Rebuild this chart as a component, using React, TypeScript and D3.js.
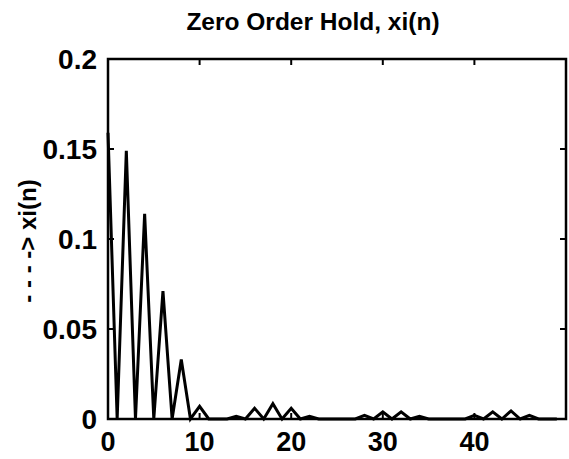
import React from "react";
import * as d3 from "d3";

const nValues: number[] = Array.from({ length: 50 }, (_, i) => i);
const xiValues: number[] = [
  0.159, 0, 0.149, 0, 0.114, 0, 0.071, 0, 0.033, 0,
  0.007, 0, 0, 0, 0.0015, 0, 0.006, 0, 0.0085, 0,
  0.006, 0, 0.0015, 0, 0, 0, 0, 0, 0.002, 0,
  0.004, 0, 0.004, 0, 0.0015, 0, 0, 0, 0, 0,
  0.002, 0, 0.004, 0, 0.0045, 0, 0.002, 0, 0, 0,
];
const xTicks: number[] = [0, 10, 20, 30, 40];
const yTicks: number[] = [0, 0.05, 0.1, 0.15, 0.2];
const yTickLabels: string[] = ["0", "0.05", "0.1", "0.15", "0.2"];
const titleText = "Zero Order Hold, xi(n)";
const yLabelText = "- - - -> xi(n)";

const W = 569;
const H = 459;
const L = 108;
const R = 566;
const T = 59;
const B = 419;

export default function App() {
  const x = d3.scaleLinear().domain([0, 50]).range([L, R]);
  const y = d3.scaleLinear().domain([0, 0.2]).range([B, T]);
  const line = d3
    .line<number>()
    .x((_, i) => x(nValues[i]))
    .y((d) => y(d));
  const font = "'Liberation Sans', Arial, Helvetica, sans-serif";
  const tick = 6;
  return (
    <svg
      width={W}
      height={H}
      style={{ position: "absolute", left: 0, top: 0, background: "#fff" }}
    >
      <rect x={0} y={0} width={W} height={H} fill="#fff" />
      <text
        x={313}
        y={30}
        textAnchor="middle"
        fontFamily={font}
        fontWeight="bold"
        fontSize={24.5}
        fill="#000"
      >
        {titleText}
      </text>
      <path
        d={line(xiValues) || ""}
        fill="none"
        stroke="#000"
        strokeWidth={3}
        strokeLinejoin="miter"
      />
      <rect
        x={L}
        y={T}
        width={R - L}
        height={B - T}
        fill="none"
        stroke="#000"
        strokeWidth={2.5}
      />
      {xTicks.map((t) => (
        <g key={"xt" + t}>
          <line x1={x(t)} x2={x(t)} y1={B} y2={B - tick} stroke="#000" strokeWidth={2} />
          <line x1={x(t)} x2={x(t)} y1={T} y2={T + tick} stroke="#000" strokeWidth={2} />
          <text
            x={x(t)}
            y={451}
            textAnchor="middle"
            fontFamily={font}
            fontWeight="bold"
            fontSize={27}
            fill="#000"
          >
            {String(t)}
          </text>
        </g>
      ))}
      {yTicks.map((t, i) => (
        <g key={"yt" + t}>
          <line x1={L} x2={L + tick} y1={y(t)} y2={y(t)} stroke="#000" strokeWidth={2} />
          <line x1={R} x2={R - tick} y1={y(t)} y2={y(t)} stroke="#000" strokeWidth={2} />
          <text
            x={97}
            y={y(t) + 10}
            textAnchor="end"
            fontFamily={font}
            fontWeight="bold"
            fontSize={28}
            fill="#000"
          >
            {yTickLabels[i]}
          </text>
        </g>
      ))}
      <text
        transform={`translate(36, 241) rotate(-90)`}
        textAnchor="middle"
        fontFamily={font}
        fontWeight="bold"
        fontSize={24}
        fill="#000"
      >
        {yLabelText}
      </text>
    </svg>
  );
}
